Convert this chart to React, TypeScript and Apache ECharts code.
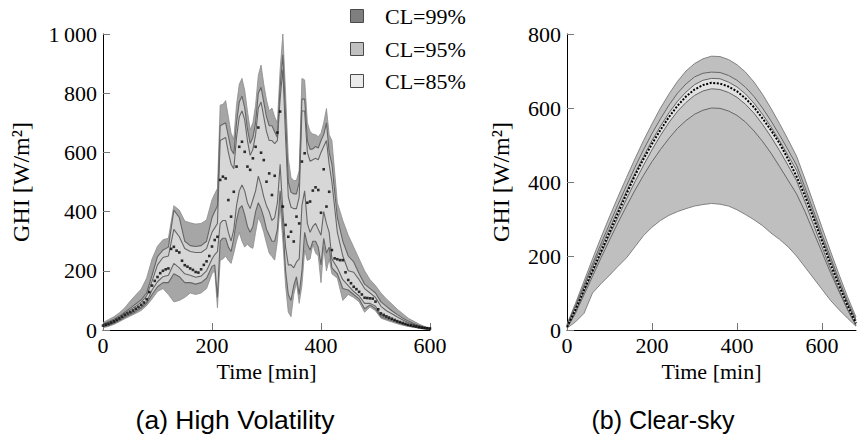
import React, { useEffect, useRef } from 'react';
import * as echarts from 'echarts';

// ---------- (a) High Volatility ----------
// band bounds: 10-min samples, 5-min samples in the volatile midday part
const hvBandTime = [
  0, 10, 20, 30, 40, 50, 60, 70, 80, 90,
  100, 110, 120, 130, 140, 150, 160, 170, 180, 190,
  200, 205, 210, 215, 220, 225, 230, 235, 240, 245,
  250, 255, 260, 265, 270, 275, 280, 285, 290, 295,
  300, 305, 310, 315, 320, 325, 330, 335, 340, 345,
  350, 355, 360, 365, 370, 375, 380, 385, 390, 395,
  400, 405, 410, 415, 420,
  430, 440, 450, 460, 470, 480, 490,
  500, 510, 520, 530, 540, 550, 560, 570, 580, 590,
  600,
];
const hvUpper99 = [
  25, 35, 45, 58, 75, 98, 118, 138, 175, 240,
  283, 305, 310, 420, 405, 368, 362, 358, 360, 372,
  440, 460, 478, 760, 762, 775, 720, 665, 645, 760,
  830, 850, 810, 740, 676, 700, 760, 860, 895, 830,
  777, 740, 750, 720, 700, 880, 1000, 800, 580, 515,
  505, 505, 540, 850, 845, 700, 670, 662, 660, 653,
  665, 700, 748, 660, 640,
  430, 370, 320, 280, 240, 200, 170,
  150, 125, 105, 88, 70, 55, 40, 30, 20, 12,
  6,
];
const hvUpper95 = [
  20, 28, 36, 47, 60, 74, 88, 102, 125, 185,
  248, 270, 280, 405, 380, 300, 285, 282, 285, 300,
  380, 400, 420, 690, 695, 700, 655, 610, 595, 700,
  770, 790, 750, 680, 630, 650, 700, 800, 820, 770,
  720, 690, 690, 670, 650, 820, 930, 720, 500, 465,
  460, 460, 500, 780, 780, 640, 610, 612, 620, 615,
  640, 660, 700, 600, 560,
  380, 300, 250, 230, 190, 155, 140,
  125, 95, 80, 65, 52, 40, 30, 22, 15, 9,
  5,
];
const hvUpper85 = [
  18, 25, 33, 43, 56, 68, 80, 94, 115, 165,
  220, 245, 250, 340, 315, 275, 265, 262, 262, 275,
  330, 345, 360, 640, 645, 650, 600, 560, 545, 650,
  720, 740, 710, 640, 590, 610, 660, 750, 770, 720,
  670, 640, 640, 630, 640, 780, 880, 650, 450, 415,
  410, 410, 450, 740, 740, 600, 570, 575, 580, 575,
  600, 620, 640, 560, 500,
  330, 250, 200, 195, 170, 140, 125,
  110, 80, 65, 55, 44, 34, 25, 19, 13, 8,
  5,
];
const hvLower85 = [
  12, 18, 26, 35, 46, 56, 66, 78, 95, 135,
  163, 180, 185, 225, 210, 190, 185, 178, 182, 200,
  240, 255, 265, 360, 370, 370, 330, 300, 340, 420,
  470, 490, 470, 430, 410, 440, 470, 520, 490, 450,
  420, 400, 370, 380, 430, 560, 400, 280, 220, 220,
  210, 230, 240, 420, 470, 360, 330, 350, 360, 340,
  320, 400, 360, 330, 240,
  210, 170, 150, 130, 115, 90, 90,
  80, 50, 42, 35, 28, 22, 16, 12, 8, 5,
  3,
];
const hvLower95 = [
  10, 15, 23, 32, 43, 52, 62, 74, 90, 120,
  146, 160, 160, 190, 180, 160, 160, 155, 160, 175,
  215, 220, 110, 300, 310, 310, 280, 265, 310, 370,
  410, 420, 390, 350, 330, 350, 400, 430, 410, 380,
  340, 320, 300, 300, 340, 470, 360, 200, 120, 100,
  150, 180, 120, 200, 330, 290, 270, 300, 300, 280,
  220, 310, 260, 280, 210,
  190, 140, 135, 120, 105, 72, 85,
  72, 45, 38, 31, 25, 19, 14, 10, 7, 4,
  2,
];
const hvLower99 = [
  8, 12, 19, 28, 38, 47, 56, 66, 82, 105,
  130, 140, 120, 95, 100, 110, 125, 120, 125, 140,
  190, 200, 75, 235, 240, 250, 235, 225, 260, 300,
  330, 300, 280, 290, 280, 276, 330, 380, 360, 330,
  293, 260, 248, 236, 300, 420, 300, 150, 60, 45,
  120, 160, 90, 150, 270, 235, 240, 290, 260, 250,
  160, 280, 200, 240, 190,
  175, 100, 120, 110, 95, 60, 78,
  65, 40, 33, 27, 21, 16, 12, 9, 6, 3,
  1,
];
const hvMeanTime = [
  0, 5, 10, 15, 20, 25, 30, 35, 40, 45,
  50, 55, 60, 65, 70, 75, 80, 85, 90, 95,
  100, 105, 110, 115, 120, 125, 130, 135, 140, 145,
  150, 155, 160, 165, 170, 175, 180, 185, 190, 195,
  200, 205, 210, 215, 220, 225, 230, 235, 240, 245,
  250, 255, 260, 265, 270, 275, 280, 285, 290, 295,
  300, 305, 310, 315, 320, 325, 330, 335, 340, 345,
  350, 355, 360, 365, 370, 375, 380, 385, 390, 395,
  400, 405, 410, 415, 420, 425, 430, 435, 440, 445,
  450, 455, 460, 465, 470, 475, 480, 485, 490, 495,
  500, 505, 510, 515, 520, 525, 530, 535, 540, 545,
  550, 555, 560, 565, 570, 575, 580, 585, 590, 595,
  600,
];
const hvMean = [
  15, 18, 21, 25, 29, 34, 39, 45, 51, 56,
  61, 66, 72, 78, 85, 93, 104, 128, 150, 166,
  179, 192, 200, 205, 208, 274, 281, 268, 262, 234,
  219, 214, 208, 203, 196, 194, 205, 220, 232, 250,
  282, 304, 315, 507, 518, 512, 439, 383, 467, 552,
  619, 636, 602, 552, 541, 580, 619, 684, 599, 574,
  501, 529, 456, 521, 667, 738, 417, 355, 315, 332,
  299, 383, 360, 569, 597, 430, 434, 471, 482, 473,
  396, 543, 417, 467, 270, 242, 239, 236, 236, 195,
  169, 158, 146, 138, 129, 120, 109, 108, 107, 106,
  96, 70, 56, 51, 46, 42, 38, 34, 30, 27,
  24, 21, 18, 16, 14, 12, 10, 8, 7, 6,
  5,
];

// ---------- (b) Clear-sky ----------
const csTime = [
  0, 20, 40, 60, 80, 100, 120, 140, 160, 180,
  200, 220, 240, 260, 280, 300, 320, 340, 360, 380,
  400, 420, 440, 460, 480, 500, 520, 540, 560, 580,
  600, 620, 640, 660, 680,
];
const csMean = [
  8, 55, 108, 160, 212, 264, 316, 368, 418, 462,
  503, 541, 576, 606, 631, 650, 662, 668, 666, 658,
  645, 626, 602, 572, 540, 505, 462, 415, 362, 302,
  240, 178, 120, 66, 18,
];
const csUpper99 = [
  16, 72, 132, 192, 250, 306, 360, 412, 463, 512,
  557, 600, 638, 672, 700, 720, 733, 740, 739, 731,
  717, 697, 670, 637, 599, 558, 515, 470, 408, 343,
  277, 213, 150, 90, 35,
];
const csUpper95 = [
  14, 66, 122, 178, 233, 286, 339, 390, 440, 487,
  531, 571, 608, 640, 665, 684, 694, 697, 696, 688,
  675, 656, 631, 600, 565, 527, 487, 446, 385, 322,
  258, 197, 136, 78, 28,
];
const csUpper85 = [
  12, 62, 116, 170, 223, 274, 325, 375, 424, 469,
  512, 551, 587, 618, 643, 663, 675, 680, 679, 670,
  657, 638, 613, 583, 549, 512, 472, 432, 373, 311,
  248, 188, 128, 72, 24,
];
const csLower85 = [
  6, 50, 103, 155, 206, 256, 305, 354, 401, 445,
  487, 526, 561, 591, 615, 634, 646, 652, 650, 642,
  629, 610, 586, 556, 522, 485, 445, 404, 346, 285,
  224, 165, 108, 56, 13,
];
const csLower95 = [
  5, 45, 95, 145, 195, 243, 290, 335, 378, 418,
  455, 488, 518, 545, 566, 583, 594, 600, 599, 592,
  580, 562, 538, 510, 478, 442, 405, 368, 320, 265,
  210, 155, 104, 55, 12,
];
const csLower99 = [
  5, 22, 45, 100, 125, 148, 172, 195, 225, 255,
  278, 296, 310, 320, 328, 335, 339, 342, 340, 335,
  325, 312, 298, 282, 262, 245, 225, 200, 170, 140,
  110, 80, 55, 32, 10,
];

// ---------- axes / labels ----------
const timeTicks = [0, 200, 400, 600];
const hvGhiTicks = [0, 200, 400, 600, 800, 1000];
const csGhiTicks = [0, 200, 400, 600, 800];
const legendNames = ['CL=99%', 'CL=95%', 'CL=85%'];
const legendColors = ['#7f7f7f', '#c0c0c0', '#ebebeb'];
const captions = ['(a) High Volatility', '(b) Clear-sky'];

const SERIF = '"Liberation Serif", "Times New Roman", serif';
const SANS = '"Liberation Sans", Arial, sans-serif';

function xAxisCfg(gridIndex: number, max: number) {
  return {
    type: 'value',
    gridIndex,
    min: 0,
    max,
    interval: 200,
    name: 'Time [min]',
    nameLocation: 'middle',
    nameGap: 17,
    nameTextStyle: { fontFamily: SERIF, fontSize: 22, color: '#000' },
    axisLine: { show: true, onZero: false, lineStyle: { color: '#000', width: 1 } },
    axisTick: { show: true, inside: true, length: 7, customValues: timeTicks, lineStyle: { color: '#777', width: 1 } },
    axisLabel: { margin: 4, fontFamily: SERIF, fontSize: 22, color: '#000', customValues: timeTicks },
    splitLine: { show: false },
  };
}

function yAxisCfg(gridIndex: number, ticks: number[], nameGap: number) {
  return {
    type: 'value',
    gridIndex,
    min: ticks[0],
    max: ticks[ticks.length - 1],
    interval: 200,
    name: 'GHI [W/m²]',
    nameLocation: 'middle',
    nameRotate: 90,
    nameGap,
    nameTextStyle: { fontFamily: SERIF, fontSize: 24, color: '#000' },
    axisLine: { show: true, onZero: false, lineStyle: { color: '#000', width: 1 } },
    axisTick: { show: true, inside: true, length: 7, lineStyle: { color: '#777', width: 1 } },
    axisLabel: {
      margin: 6,
      fontFamily: SERIF,
      fontSize: 22,
      color: '#000',
      formatter: (v: number) => (v >= 1000 ? '1\u2009000' : String(v)),
    },
    splitLine: { show: false },
  };
}

function band(name: string, xi: number, time: number[], up: number[], lo: number[], fill: string, z: number) {
  return {
    type: 'custom',
    name,
    xAxisIndex: xi,
    yAxisIndex: xi,
    silent: true,
    z,
    data: time.map((t, i) => [t, up[i], lo[i]]),
    renderItem: (params: any, api: any) => {
      if (params.dataIndex !== 0) return null;
      const pts: number[][] = [];
      for (let i = 0; i < time.length; i++) pts.push(api.coord([time[i], up[i]]));
      for (let i = time.length - 1; i >= 0; i--) pts.push(api.coord([time[i], lo[i]]));
      return { type: 'polygon', shape: { points: pts }, style: { fill, stroke: 'none' } };
    },
  };
}

function edge(xi: number, time: number[], vals: number[], color: string, width: number) {
  return {
    type: 'line',
    xAxisIndex: xi,
    yAxisIndex: xi,
    data: time.map((t, i) => [t, vals[i]]),
    symbol: 'none',
    silent: true,
    z: 4,
    lineStyle: { color, width },
  };
}

export default function App() {
  const ref = useRef<HTMLDivElement>(null);

  useEffect(() => {
    if (!ref.current) return;
    const chart = echarts.init(ref.current, undefined, { renderer: 'svg' });

    const legendRows = [16, 49, 81];
    const graphic: any[] = [];
    legendNames.forEach((n, i) => {
      graphic.push({
        type: 'rect',
        shape: { x: 350.5, y: legendRows[i] - 6.5, width: 13, height: 13 },
        style: { fill: legendColors[i], stroke: '#4a4a4a', lineWidth: 1 },
      });
      graphic.push({
        type: 'text',
        style: {
          x: 385,
          y: legendRows[i],
          text: n,
          font: `22px ${SERIF}`,
          fill: '#000',
          align: 'left',
          verticalAlign: 'middle',
        },
      });
    });
    graphic.push({
      type: 'text',
      style: { x: 235, y: 420, text: captions[0], font: `26.5px ${SANS}`, fill: '#000', align: 'center', verticalAlign: 'middle' },
    });
    graphic.push({
      type: 'text',
      style: { x: 663, y: 420, text: captions[1], font: `25px ${SANS}`, fill: '#000', align: 'center', verticalAlign: 'middle' },
    });

    const option: any = {
      animation: false,
      backgroundColor: '#fff',
      grid: [
        { left: 103, top: 34, width: 327, height: 296, containLabel: false },
        { left: 567, top: 34, width: 289, height: 296, containLabel: false },
      ],
      xAxis: [xAxisCfg(0, 600), xAxisCfg(1, 680)],
      yAxis: [yAxisCfg(0, hvGhiTicks, 70), yAxisCfg(1, csGhiTicks, 54)],
      graphic,
      series: [
        band('CL=99%', 0, hvBandTime, hvUpper99, hvLower99, '#a6a6a6', 1),
        band('CL=95%', 0, hvBandTime, hvUpper95, hvLower95, '#cfcfcf', 2),
        band('CL=85%', 0, hvBandTime, hvUpper85, hvLower85, '#d7d7d7', 3),
        edge(0, hvBandTime, hvUpper99, '#8c8c8c', 0.8),
        edge(0, hvBandTime, hvLower99, '#8c8c8c', 0.8),
        edge(0, hvBandTime, hvUpper95, '#666', 1.1),
        edge(0, hvBandTime, hvLower95, '#666', 1.1),
        edge(0, hvBandTime, hvUpper85, '#666', 1.1),
        edge(0, hvBandTime, hvLower85, '#666', 1.1),
        {
          type: 'scatter',
          xAxisIndex: 0,
          yAxisIndex: 0,
          data: hvMeanTime.map((t, i) => [t, hvMean[i]]),
          symbol: 'rect',
          symbolSize: 2.6,
          itemStyle: { color: '#000' },
          silent: true,
          z: 5,
        },
        band('CS 99%', 1, csTime, csUpper99, csLower99, '#bfbfbf', 1),
        band('CS 95%', 1, csTime, csUpper95, csLower95, '#c7c7c7', 2),
        band('CS 85%', 1, csTime, csUpper85, csLower85, '#e2e2e2', 3),
        edge(1, csTime, csUpper99, '#777', 0.9),
        edge(1, csTime, csLower99, '#777', 0.9),
        edge(1, csTime, csUpper95, '#666', 1),
        edge(1, csTime, csLower95, '#666', 1),
        edge(1, csTime, csUpper85, '#666', 1),
        edge(1, csTime, csLower85, '#666', 1),
        {
          type: 'line',
          xAxisIndex: 1,
          yAxisIndex: 1,
          data: csTime.map((t, i) => [t, csMean[i]]),
          symbol: 'none',
          silent: true,
          z: 5,
          lineStyle: { color: '#000', width: 2, type: [2, 1.6] },
        },
      ],
    };
    chart.setOption(option);
    return () => chart.dispose();
  }, []);

  return (
    <div
      ref={ref}
      style={{ position: 'absolute', left: 0, top: 0, width: 857, height: 445, background: '#fff' }}
    />
  );
}
